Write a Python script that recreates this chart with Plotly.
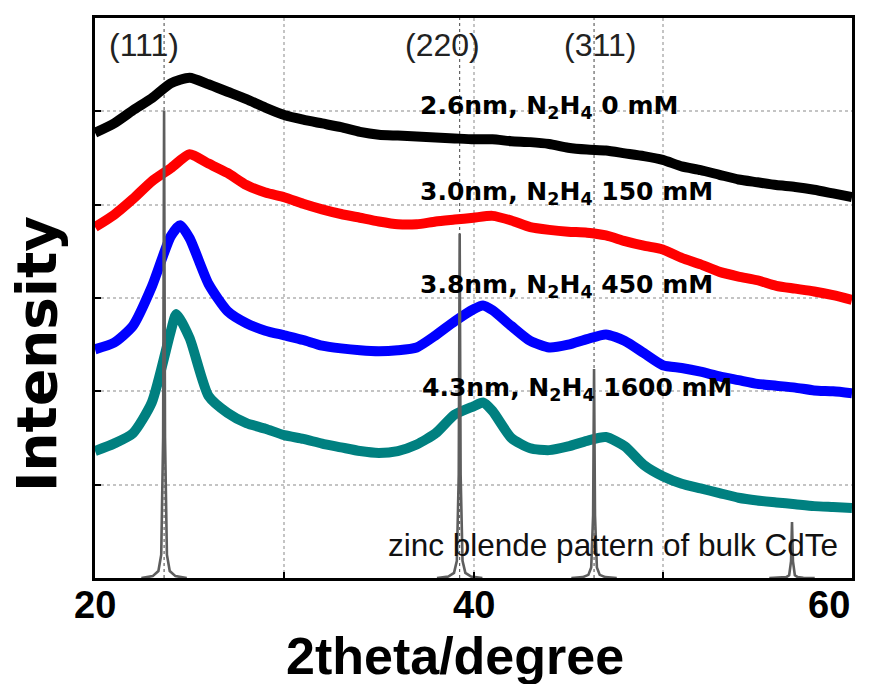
import plotly.graph_objects as go

# ---------------- data ----------------
two_theta = [20, 21, 22, 23, 24, 25, 26, 27, 28, 29, 30, 31, 32, 33, 34, 35, 36, 37, 38, 39,
             40, 41, 42, 43, 44, 45, 46, 47, 48, 49, 50, 51, 52, 53, 54, 55, 56, 57, 58, 59, 60]

int_26nm = [477, 487, 501, 514, 530, 536, 529, 521, 513, 504, 496, 491, 487, 483, 478, 475, 474, 473,
            472, 471, 470, 470, 468, 467, 465, 461, 459, 458, 455, 452, 448, 441, 437, 432, 427, 424,
            421, 419, 416, 412, 408]

int_30nm = [376, 389, 406, 425, 439, 454, 444, 434, 421, 413, 408, 401, 395, 390, 386, 382, 379, 379,
            382, 384, 386, 388, 383, 376, 373, 371, 370, 367, 361, 356, 352, 343, 336, 328, 323, 319,
            313, 310, 307, 303, 298]

two_theta_b = [20, 21, 22, 23, 24, 24.5, 25, 26, 27, 28, 29, 30, 31, 32, 33, 34, 35, 36, 37, 38, 39,
               40, 40.5, 41, 42, 43, 44, 45, 46, 47, 48, 49, 50, 51, 52, 53, 54, 55, 56, 57, 58, 59, 60]
int_38nm = [245, 252, 270, 312, 366, 378, 364, 315, 286, 273, 265, 260, 255, 249, 246, 244, 243, 244,
            247, 260, 275, 288, 292, 287, 270, 254, 247, 250, 256, 261, 254, 241, 228, 225, 221, 216,
            212, 208, 206, 204, 201, 200, 198]

two_theta_t = [20, 21, 22, 23, 24, 24.3, 25, 26, 27, 28, 29, 30, 31, 32, 33, 34, 35, 36, 37, 38, 39,
               40, 40.5, 41, 42, 43, 44, 45, 46, 47, 48, 49, 50, 51, 52, 53, 54, 55, 56, 57, 58, 59, 60]
int_43nm = [136, 144, 155, 188, 264, 283, 257, 195, 177, 166, 160, 153, 149, 144, 140, 136, 134, 136,
            143, 155, 175, 184, 188, 179, 150, 139, 137, 141, 147, 151, 141, 121, 109, 101, 96, 91,
            86, 83, 81, 79, 77, 76, 75]

series_labels = ["2.6nm, N<sub>2</sub>H<sub>4</sub> 0 mM",
                 "3.0nm, N<sub>2</sub>H<sub>4</sub> 150 mM",
                 "3.8nm, N<sub>2</sub>H<sub>4</sub> 450 mM",
                 "4.3nm, N<sub>2</sub>H<sub>4</sub> 1600 mM"]

# bulk CdTe zinc blende reference pattern
ref_pos = [23.65, 39.27, 46.37, 56.83]
ref_height = [501, 369, 224, 60]
hkl_labels = ["(111)", "(220)", "(311)"]
ref_caption = "zinc blende pattern of bulk CdTe"

x_tick_vals = [20, 40, 60]
x_tick_text = ["20", "40", "60"]

# ---------------- figure ----------------
fig = go.Figure()

colors = ["#000000", "#ff0000", "#0000ff", "#008080"]
xs = [two_theta, two_theta, two_theta_b, two_theta_t]
ys = [int_26nm, int_30nm, int_38nm, int_43nm]
for xv, yv, c in zip(xs, ys, colors):
    fig.add_trace(go.Scatter(x=xv, y=yv, mode="lines",
                             line=dict(color=c, width=10, shape="spline", smoothing=0.6),
                             hoverinfo="skip", showlegend=False))

# reference stick pattern (narrow peak profile is a drawing style)
prof_dx = [-1.2, -0.6, -0.3, -0.15, -0.05, 0, 0.05, 0.15, 0.3, 0.6, 1.2]
prof_f = [0, 0.004, 0.015, 0.05, 0.3, 1, 0.3, 0.05, 0.015, 0.004, 0]
px, py = [], []
for p, h in zip(ref_pos, ref_height):
    for dx, f in zip(prof_dx, prof_f):
        px.append(p + dx)
        py.append(h * f)
    px.append(None)
    py.append(None)
fig.add_trace(go.Scatter(x=px, y=py, mode="lines", line=dict(color="#5e5e5e", width=2.6),
                         hoverinfo="skip", showlegend=False, connectgaps=False))

# dotted marker lines at the hkl positions
for p in ref_pos[:3]:
    fig.add_shape(type="line", xref="x", yref="y", x0=p, x1=p, y0=0, y1=600,
                  line=dict(color="#444444", width=1, dash="dot"), layer="below")

annotations = []
label_x = [37.07, 37.07, 37.07, 37.15]
label_y = [505, 412, 313, 202]
for t, xv, yv in zip(series_labels, label_x, label_y):
    annotations.append(dict(x=xv, y=yv, xref="x", yref="y", text=t, showarrow=False,
                            xanchor="left", yanchor="middle",
                            font=dict(family="DejaVu Sans", size=25, color="#000000", weight="bold")))

hkl_x = [22.59, 38.34, 46.69]
for t, xv in zip(hkl_labels, hkl_x):
    annotations.append(dict(x=xv, y=571, xref="x", yref="y", text=t, showarrow=False,
                            xanchor="center", yanchor="middle",
                            font=dict(family="Liberation Sans", size=32, color="#222222")))

annotations.append(dict(x=35.35, y=35, xref="x", yref="y", text=ref_caption, showarrow=False,
                        xanchor="left", yanchor="middle",
                        font=dict(family="Liberation Sans", size=31.5, color="#111111")))

# tick labels
anchors = ["center", "center", "right"]
for v, t, a in zip(x_tick_vals, x_tick_text, anchors):
    annotations.append(dict(x=v, y=(578 - 605) / 563.0, xref="x", yref="paper",
                            yanchor="middle", xanchor=a, text=t, showarrow=False,
                            font=dict(family="Liberation Sans", size=38, color="#000000", weight="bold")))

annotations.append(dict(x=0.4756, y=-0.14, xref="paper", yref="paper", text="2theta/degree",
                        showarrow=False, xanchor="center", yanchor="middle",
                        font=dict(family="Liberation Sans", size=52, color="#000000", weight="bold")))
annotations.append(dict(x=-0.0766, y=0.40, xref="paper", yref="paper", text="Intensity",
                        textangle=-90, showarrow=False, xanchor="center", yanchor="middle",
                        font=dict(family="DejaVu Sans", size=55, color="#000000", weight="bold")))

fig.update_layout(
    width=869, height=676,
    margin=dict(l=87, r=25, t=7, b=106),
    paper_bgcolor="white", plot_bgcolor="white",
    annotations=annotations,
    showlegend=False,
)
fig.update_xaxes(range=[20, 60], tickvals=x_tick_vals, showticklabels=False,
                 ticks="inside", ticklen=6, tickwidth=2, tickcolor="black",
                 showline=True, linecolor="black", linewidth=3, mirror=True,
                 showgrid=True, gridcolor="#c4c4c4", griddash="dot", gridwidth=1.5,
                 minor=dict(dtick=10, ticks="inside", ticklen=6, tickwidth=2, tickcolor="black",
                            showgrid=True, gridcolor="#c4c4c4", griddash="dot", gridwidth=1.5),
                 zeroline=False)
fig.update_yaxes(range=[0, 600], dtick=100, showticklabels=False,
                 ticks="inside", ticklen=6, tickwidth=1.5, tickcolor="black",
                 showline=True, linecolor="black", linewidth=3, mirror=True,
                 showgrid=True, gridcolor="#c4c4c4", griddash="dot", gridwidth=1.5,
                 zeroline=False)

fig.write_html("out.html")
